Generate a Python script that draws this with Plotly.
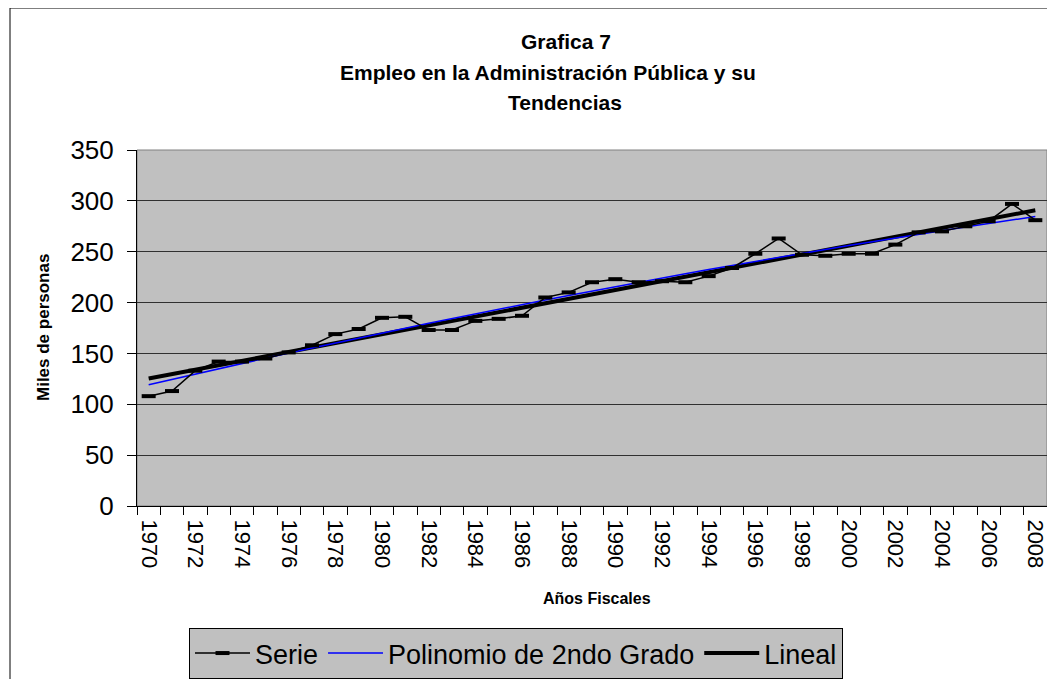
import numpy as np
import plotly.graph_objects as go

# Datos (miles de personas)
years = list(range(1970, 2009))
empleo = [108, 113, 133, 142, 142, 145, 151, 158, 169, 174,
          185, 186, 173, 173, 182, 184, 187, 205, 210, 220,
          223, 220, 221, 220, 226, 234, 248, 263, 247, 246,
          248, 248, 257, 269, 270, 275, 280, 297, 281]

y_ticks = [0, 50, 100, 150, 200, 250, 300, 350]
x_labels = years[::2]

# Tendencias (ajuste por minimos cuadrados, como la linea de tendencia de Excel)
t = np.array(years, dtype=float)
poly2 = np.polyval(np.polyfit(t - 1970, empleo, 2), t - 1970)
lineal = np.polyval(np.polyfit(t - 1970, empleo, 1), t - 1970)

FONT = "Liberation Sans, Arial, sans-serif"
OFF = 8  # the page body adds an 8px margin on each side
W, H = 1055 - OFF, 687 - 2 * OFF  # keep the page from scrolling vertically
# plot area, in page pixels
L, R, T, B = 137, 1047, 150, 506


def px(x):
    return (x - L) / (R - L)


def py(y):
    return (B - y) / (B - T)


fig = go.Figure()

fig.add_trace(go.Scatter(
    x=years, y=lineal, name="Lineal", mode="lines",
    line=dict(color="black", width=4),
))
fig.add_trace(go.Scatter(
    x=years, y=poly2, name="Polinomio de 2ndo Grado", mode="lines",
    line=dict(color="#0000ff", width=1.5),
))
fig.add_trace(go.Scatter(
    x=years, y=empleo, name="Serie", mode="lines+markers",
    line=dict(color="black", width=1.5),
    marker=dict(symbol="line-ew", size=10, line=dict(color="black", width=4)),
))

fig.update_layout(
    width=W, height=H,
    margin=dict(l=L - OFF, r=W - (R - OFF), t=T - OFF, b=H - (B - OFF), autoexpand=False),
    paper_bgcolor="white",
    plot_bgcolor="#c0c0c0",
    font=dict(family=FONT, color="black"),
    showlegend=True,
    legend=dict(
        orientation="h", traceorder="reversed",
        x=px(516), xanchor="center", y=py(628), yanchor="top",
        bgcolor="#c0c0c0", bordercolor="black", borderwidth=1,
        font=dict(size=27), itemwidth=55,
    ),
    xaxis=dict(
        range=[years[0] - 0.5, years[-1] + 0.5],
        tickmode="array", tickvals=x_labels, ticktext=[str(v) for v in x_labels],
        tickangle=90, tickfont=dict(size=22), ticklabeloverflow="allow",
        ticks="outside", ticklen=8, tickcolor="rgba(0,0,0,0)",
        minor=dict(tickmode="array",
                   tickvals=[v - 0.5 for v in years] + [years[-1] + 0.5],
                   ticks="outside", ticklen=8, tickcolor="black", tickwidth=1),
        showgrid=False, zeroline=False,
        showline=True, linecolor="black", linewidth=1,
    ),
    yaxis=dict(
        range=[0, 350], tickmode="array", tickvals=y_ticks,
        tickfont=dict(size=26), ticklabelstandoff=8,
        ticks="outside", ticklen=9, tickcolor="black",
        showgrid=True, gridcolor="#303030", gridwidth=1,
        zeroline=False,
        showline=True, linecolor="black", linewidth=1,
    ),
)

# Borde del area de trazado
fig.add_shape(type="rect", xref="paper", yref="paper", x0=0, x1=1, y0=0, y1=1,
              line=dict(color="#808080", width=1), layer="below")
# Borde exterior de la grafica
fig.add_shape(type="rect", xref="paper", yref="paper",
              x0=px(10), x1=px(1070), y0=py(720), y1=py(8),
              line=dict(color="black", width=1))

title_lines = ["Grafica 7", "Empleo en la Administración Pública y su", "Tendencias"]
title_x = [566, 548, 565]
for i, txt in enumerate(title_lines):
    fig.add_annotation(text=f"<b>{txt}</b>", xref="paper", yref="paper",
                       x=px(title_x[i]), y=py(41 + 31 * i), xanchor="center", yanchor="middle",
                       showarrow=False, font=dict(size=21))

fig.add_annotation(text="<b>Años Fiscales</b>", xref="paper", yref="paper",
                   x=px(597), y=py(598), xanchor="center", yanchor="middle",
                   showarrow=False, font=dict(size=16))
fig.add_annotation(text="<b>Miles de personas</b>", xref="paper", yref="paper",
                   x=px(43), y=py(328), xanchor="center", yanchor="middle",
                   textangle=-90, showarrow=False, font=dict(size=17))

fig.write_html("out.html")
